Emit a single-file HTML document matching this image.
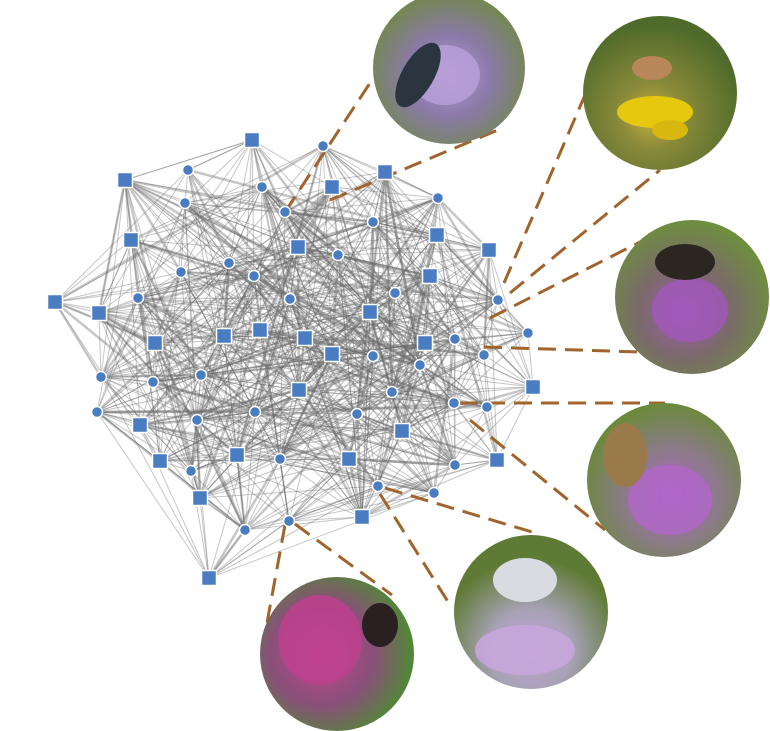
<!DOCTYPE html>
<html><head><meta charset="utf-8"><style>
html,body{margin:0;padding:0;background:#fff;width:770px;height:731px;overflow:hidden}
svg{display:block}
</style></head><body>
<svg id="s" width="770" height="731" viewBox="0 0 770 731" xmlns="http://www.w3.org/2000/svg">
<defs>
<radialGradient id="g1" cx="50%" cy="55%" r="60%"><stop offset="0" stop-color="#b59bd6"/><stop offset="0.45" stop-color="#8a7aa8"/><stop offset="1" stop-color="#6f8a3e"/></radialGradient>
<radialGradient id="g2" cx="45%" cy="65%" r="60%"><stop offset="0" stop-color="#c9b040"/><stop offset="0.35" stop-color="#8a8a3a"/><stop offset="1" stop-color="#4f6a2a"/></radialGradient>
<radialGradient id="g3" cx="45%" cy="60%" r="60%"><stop offset="0" stop-color="#a05bb5"/><stop offset="0.5" stop-color="#7a6a6a"/><stop offset="1" stop-color="#6e8f3e"/></radialGradient>
<radialGradient id="g4" cx="55%" cy="60%" r="60%"><stop offset="0" stop-color="#b066c8"/><stop offset="0.5" stop-color="#8c7a8a"/><stop offset="1" stop-color="#6a8a3a"/></radialGradient>
<radialGradient id="g5" cx="50%" cy="75%" r="60%"><stop offset="0" stop-color="#c3a3d8"/><stop offset="0.45" stop-color="#a7a2b5"/><stop offset="1" stop-color="#5f7a34"/></radialGradient>
<radialGradient id="g6" cx="40%" cy="50%" r="60%"><stop offset="0" stop-color="#c0478f"/><stop offset="0.55" stop-color="#8a4f7a"/><stop offset="1" stop-color="#4f8a34"/></radialGradient>
</defs>
<g id="edges" stroke="#6a6a6a" stroke-opacity="0.38" stroke-width="1"></g>
<g id="dash" stroke="#a0642c" stroke-width="3" stroke-dasharray="18,9" fill="none">
<line x1="285" y1="212" x2="372" y2="80"/>
<line x1="330" y1="200" x2="498" y2="130"/>
<line x1="504" y1="283" x2="585" y2="95"/>
<line x1="510" y1="293" x2="660" y2="170"/>
<line x1="490" y1="318" x2="640" y2="242"/>
<line x1="484" y1="347" x2="640" y2="352"/>
<line x1="460" y1="403" x2="665" y2="403"/>
<line x1="470" y1="420" x2="605" y2="530"/>
<line x1="385" y1="488" x2="532" y2="532"/>
<line x1="380" y1="494" x2="452" y2="608"/>
<line x1="285" y1="525" x2="262" y2="650"/>
<line x1="295" y1="524" x2="392" y2="595"/>
</g>
<g id="nodes" fill="#4a7cc2" stroke="#fff" stroke-width="1.5"></g>
<g>
<circle cx="449" cy="68" r="76" fill="url(#g1)"/>
<circle cx="660" cy="93" r="77" fill="url(#g2)"/>
<circle cx="692" cy="297" r="77" fill="url(#g3)"/>
<circle cx="664" cy="480" r="77" fill="url(#g4)"/>
<circle cx="531" cy="612" r="77" fill="url(#g5)"/>
<circle cx="337" cy="654" r="77" fill="url(#g6)"/>
<ellipse cx="445" cy="75" rx="35" ry="30" fill="#b9a0da" opacity="0.8"/>
<ellipse cx="418" cy="75" rx="16" ry="36" fill="#2b3540" transform="rotate(30 418 75)"/>
<ellipse cx="655" cy="112" rx="38" ry="16" fill="#e6c80f"/>
<ellipse cx="670" cy="130" rx="18" ry="10" fill="#d8b80f"/>
<ellipse cx="652" cy="68" rx="20" ry="12" fill="#b8875a"/>
<ellipse cx="690" cy="310" rx="38" ry="32" fill="#a357bc" opacity="0.8"/>
<ellipse cx="685" cy="262" rx="30" ry="18" fill="#2b2620"/>
<ellipse cx="670" cy="500" rx="42" ry="35" fill="#b166c9" opacity="0.8"/>
<ellipse cx="625" cy="455" rx="22" ry="32" fill="#9a7a4a"/>
<ellipse cx="525" cy="650" rx="50" ry="25" fill="#c6a6dc" opacity="0.9"/>
<ellipse cx="525" cy="580" rx="32" ry="22" fill="#d8dce0"/>
<ellipse cx="320" cy="640" rx="42" ry="45" fill="#c0408f" opacity="0.8"/>
<ellipse cx="380" cy="625" rx="18" ry="22" fill="#2a2020"/>
</g>
</svg>
<script>
var sq=[[252,140],[125,180],[385,172],[332,187],[131,240],[298,247],[437,235],[489,250],[430,276],[55,302],[99,313],[370,312],[260,330],[224,336],[155,343],[305,338],[332,354],[425,343],[533,387],[299,390],[140,425],[402,431],[237,455],[349,459],[497,460],[160,461],[200,498],[362,517],[209,578]];
var ci=[[323,146],[188,170],[185,203],[262,187],[285,212],[438,198],[373,222],[181,272],[229,263],[254,276],[338,255],[395,293],[138,298],[290,299],[498,300],[528,333],[455,339],[484,355],[373,356],[101,377],[153,382],[201,375],[420,365],[454,403],[487,407],[97,412],[255,412],[392,392],[357,414],[197,420],[191,471],[280,459],[455,465],[378,486],[434,493],[245,530],[289,521]];
var all=sq.concat(ci),ns="http://www.w3.org/2000/svg";
var seed=7;function r(){seed=(seed*16807)%2147483647;return seed/2147483647;}
var E=document.getElementById("edges");
for(var k=0;k<2;k++)
for(var i=0;i<all.length;i++)for(var j=i+1;j<all.length;j++){
 var a=all[i],b=all[j],d=Math.hypot(a[0]-b[0],a[1]-b[1]);
 var p=d<120?0.4:d<250?0.22:0.08;
 if(r()<p){var l=document.createElementNS(ns,"line");l.setAttribute("x1",a[0]);l.setAttribute("y1",a[1]);l.setAttribute("x2",b[0]);l.setAttribute("y2",b[1]);if(r()<0.15)l.setAttribute("stroke-width","2.5");E.appendChild(l);}
}
var N=document.getElementById("nodes");
sq.forEach(function(p){var e=document.createElementNS(ns,"rect");e.setAttribute("x",p[0]-7.5);e.setAttribute("y",p[1]-7.5);e.setAttribute("width",15);e.setAttribute("height",15);N.appendChild(e);});
ci.forEach(function(p){var e=document.createElementNS(ns,"circle");e.setAttribute("cx",p[0]);e.setAttribute("cy",p[1]);e.setAttribute("r",5.5);N.appendChild(e);});
</script>
</body></html>
